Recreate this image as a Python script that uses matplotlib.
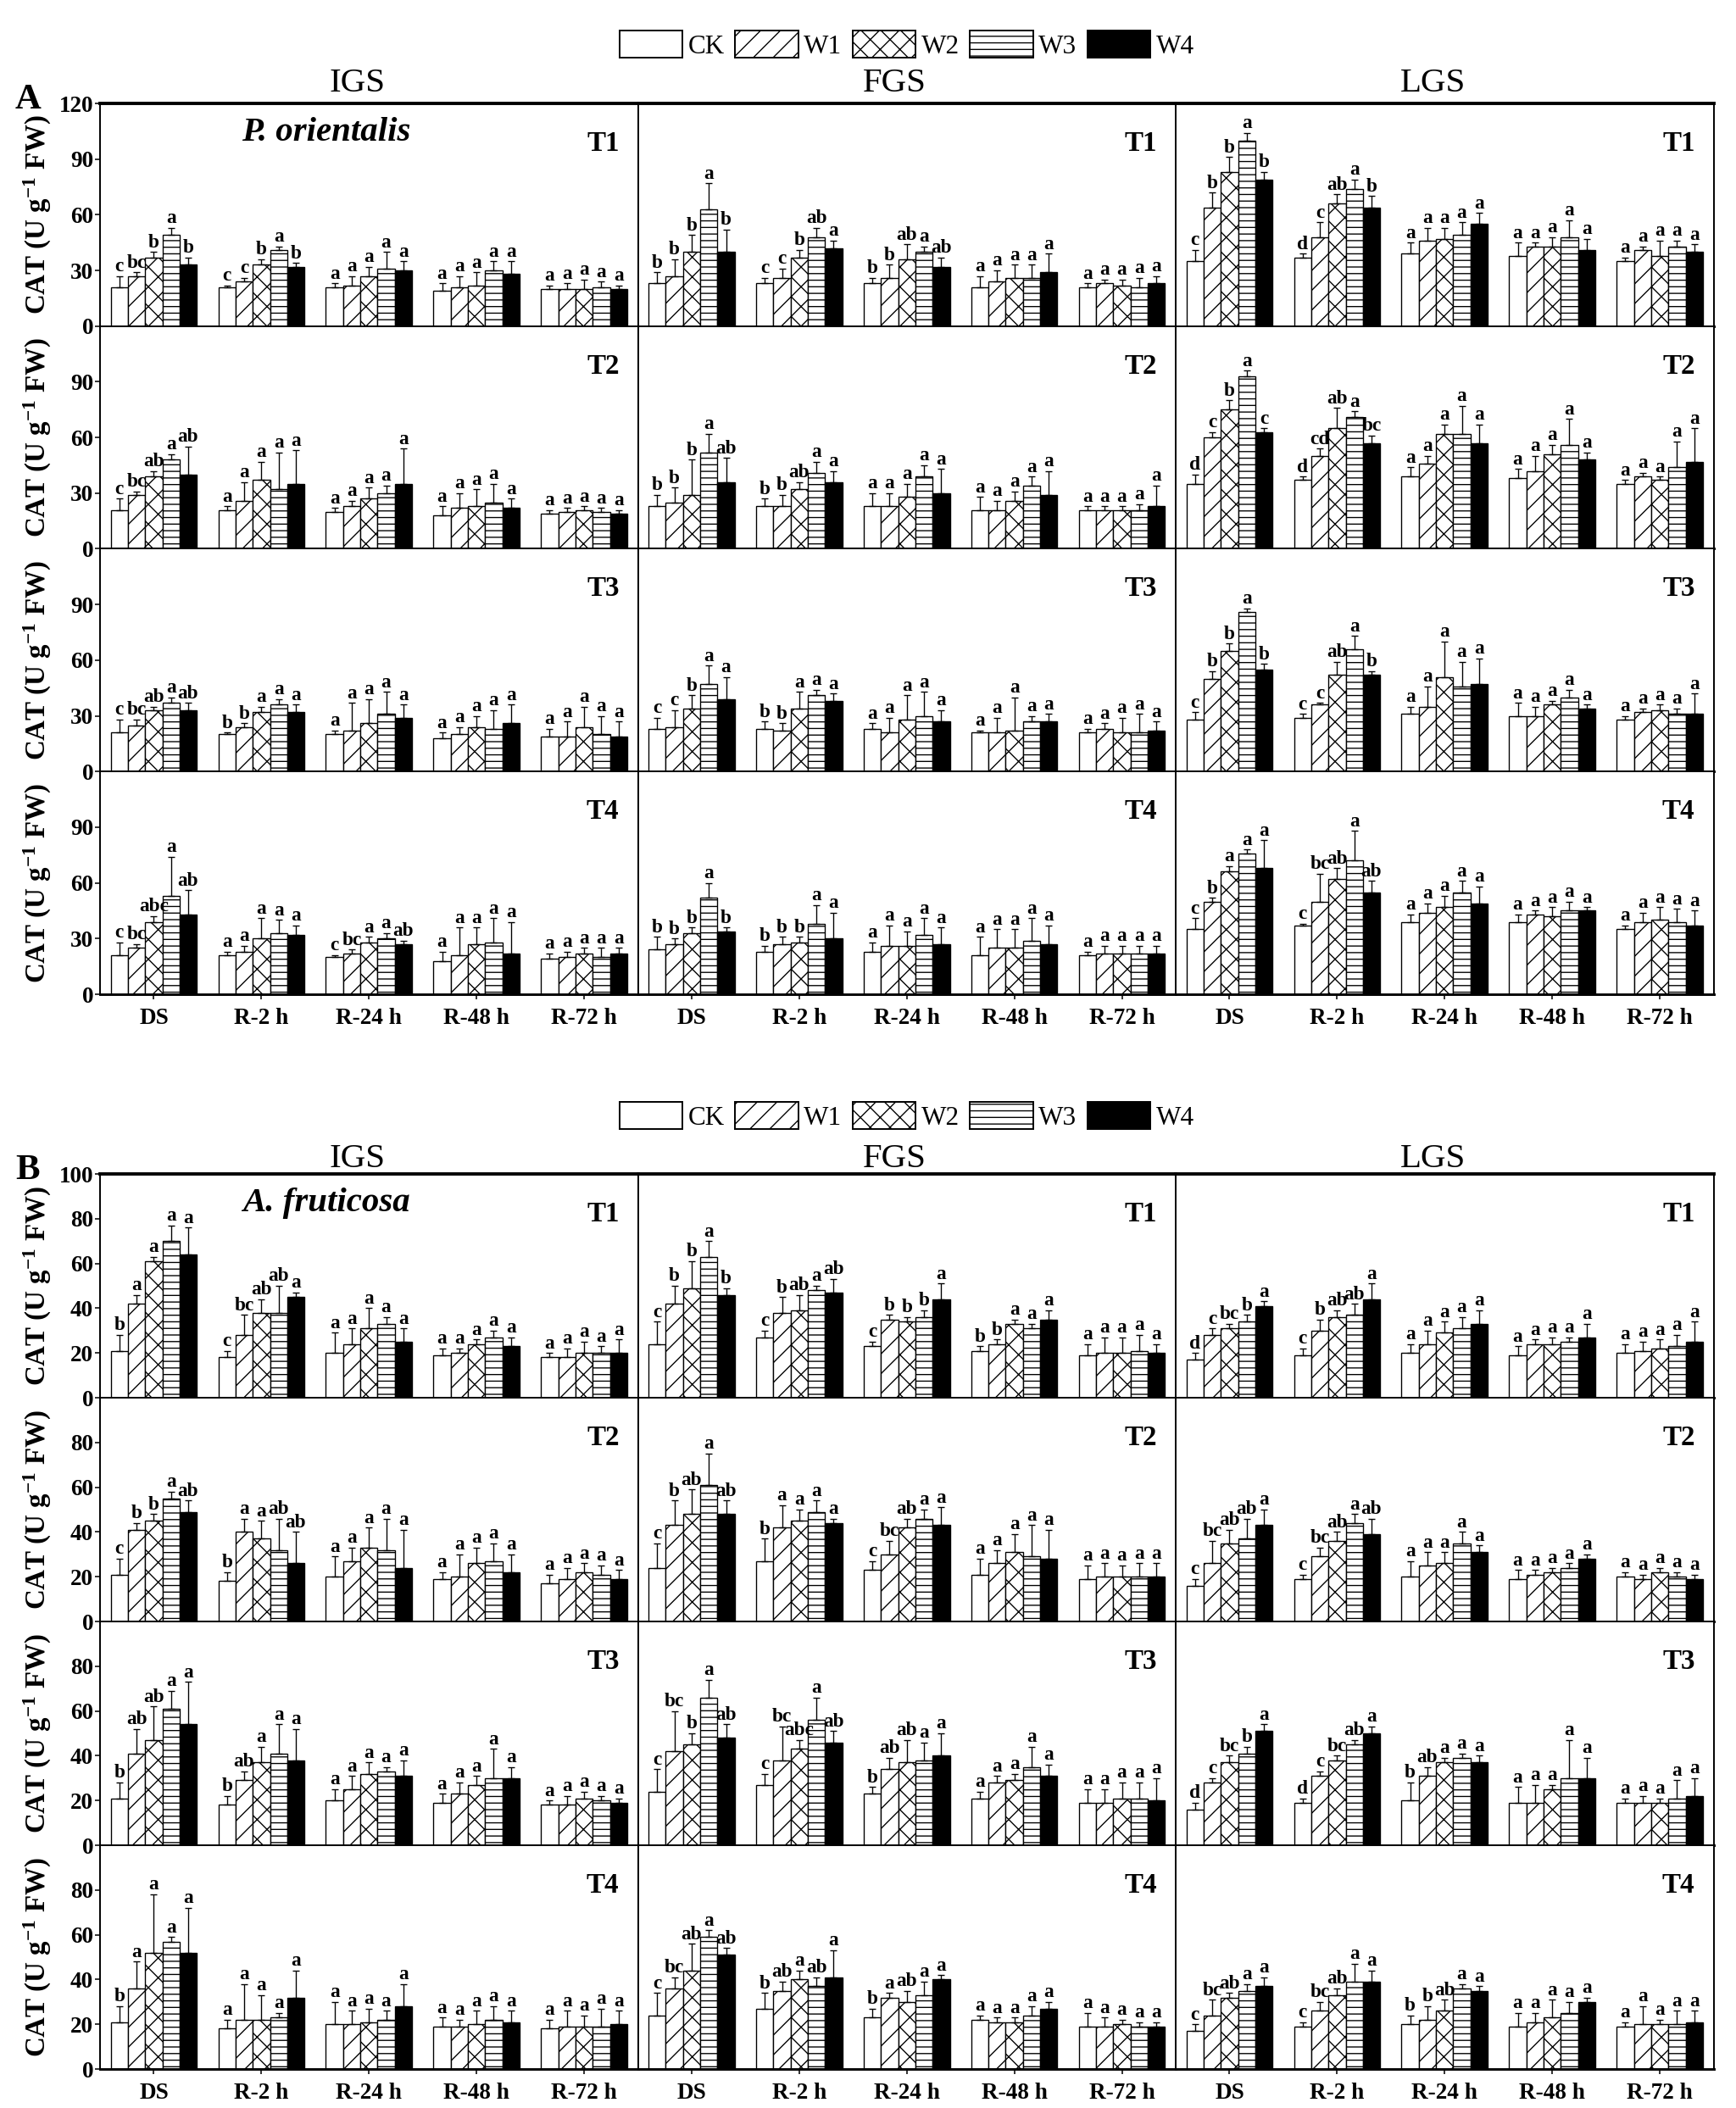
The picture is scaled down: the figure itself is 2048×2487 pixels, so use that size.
import numpy as np
import matplotlib
matplotlib.use("Agg")
import matplotlib.pyplot as plt
from matplotlib.patches import Patch

# ---------------------------------------------------------------------------
# data  (rows = T1..T4, then 5 sampling times, then 5 treatments CK..W4)
groups = ["DS", "R-2 h", "R-24 h", "R-48 h", "R-72 h"]
treatments = ["CK", "W1", "W2", "W3", "W4"]
stages = ["IGS", "FGS", "LGS"]
periods = ["T1", "T2", "T3", "T4"]

# Panel A  - P. orientalis
A_IGS_mean = [
    [[21, 27, 37, 49, 33], [21, 24, 33, 41, 32], [21, 22, 27, 31, 30], [19, 21, 22, 30, 28], [20, 20, 20, 21, 20]],
    [[21, 29, 39, 48, 40], [21, 26, 37, 32, 35], [20, 23, 27, 30, 35], [18, 22, 23, 25, 22], [19, 20, 21, 20, 19]],
    [[21, 25, 33, 37, 33], [20, 24, 32, 36, 32], [20, 22, 26, 31, 29], [18, 20, 24, 23, 26], [19, 19, 24, 20, 19]],
    [[21, 25, 39, 53, 43], [21, 23, 30, 33, 32], [20, 22, 28, 30, 27], [18, 21, 27, 28, 22], [19, 20, 22, 20, 22]],
]
A_IGS_err = [
    [[6, 2, 3, 4, 4], [1, 2, 3, 2, 2], [2, 5, 5, 9, 5], [4, 6, 7, 5, 7], [2, 3, 5, 3, 2]],
    [[6, 2, 3, 3, 15], [2, 10, 10, 20, 18], [2, 3, 6, 4, 19], [5, 8, 9, 10, 5], [2, 2, 2, 2, 2]],
    [[7, 3, 2, 3, 4], [1, 2, 3, 3, 4], [2, 15, 13, 12, 7], [3, 4, 6, 10, 10], [4, 8, 11, 10, 8]],
    [[7, 2, 3, 21, 13], [2, 3, 11, 7, 5], [1, 2, 3, 3, 2], [5, 15, 9, 13, 17], [3, 3, 3, 5, 3]],
]
A_IGS_sig = [
    ["c bc b a b", "c c b a b", "a a a a a", "a a a a a", "a a a a a"],
    ["c bc ab a ab", "a a a a a", "a a a a a", "a a a a a", "a a a a a"],
    ["c bc ab a ab", "b b a a a", "a a a a a", "a a a a a", "a a a a a"],
    ["c bc abc a ab", "a a a a a", "c bc a a ab", "a a a a a", "a a a a a"],
]

A_FGS_mean = [
    [[23, 27, 40, 63, 40], [23, 26, 37, 48, 42], [23, 26, 36, 40, 32], [21, 24, 26, 26, 29], [21, 23, 22, 21, 23]],
    [[23, 25, 29, 52, 36], [23, 23, 32, 41, 36], [23, 23, 28, 39, 30], [21, 21, 26, 34, 29], [21, 21, 21, 21, 23]],
    [[23, 24, 34, 47, 39], [23, 22, 34, 41, 38], [23, 21, 28, 30, 27], [21, 21, 22, 27, 27], [21, 23, 21, 21, 22]],
    [[24, 27, 33, 52, 34], [23, 27, 28, 38, 30], [23, 26, 26, 32, 27], [21, 25, 25, 29, 27], [21, 22, 22, 22, 22]],
]
A_FGS_err = [
    [[6, 9, 9, 14, 12], [3, 5, 4, 5, 4], [3, 7, 8, 3, 5], [6, 6, 7, 7, 10], [2, 2, 3, 5, 4]],
    [[6, 8, 19, 10, 13], [4, 6, 4, 6, 6], [7, 7, 7, 6, 13], [7, 5, 5, 5, 13], [2, 2, 2, 3, 11]],
    [[6, 9, 7, 10, 12], [4, 4, 9, 3, 4], [3, 8, 13, 13, 6], [1, 8, 18, 3, 4], [2, 3, 8, 10, 5]],
    [[7, 3, 3, 8, 2], [3, 4, 3, 10, 14], [5, 11, 8, 9, 9], [10, 10, 10, 12, 10], [2, 4, 4, 4, 4]],
]
A_FGS_sig = [
    ["b b b a b", "c c b ab a", "b b ab a ab", "a a a a a", "a a a a a"],
    ["b b b a ab", "b b ab a a", "a a a a a", "a a a a a", "a a a a a"],
    ["c c b a a", "b b a a a", "a a a a a", "a a a a a", "a a a a a"],
    ["b b b a b", "b b b a a", "a a a a a", "a a a a a", "a a a a a"],
]

A_LGS_mean = [
    [[35, 64, 83, 100, 79], [37, 48, 66, 74, 64], [39, 46, 47, 49, 55], [38, 43, 43, 48, 41], [35, 41, 38, 43, 40]],
    [[35, 60, 75, 93, 63], [37, 50, 65, 71, 57], [39, 46, 62, 62, 57], [38, 42, 51, 56, 48], [35, 39, 37, 44, 47]],
    [[28, 50, 65, 86, 55], [29, 36, 52, 66, 52], [31, 35, 51, 46, 47], [30, 30, 36, 40, 34], [28, 32, 33, 31, 31]],
    [[35, 50, 66, 76, 68], [37, 50, 62, 72, 55], [39, 44, 47, 55, 49], [39, 43, 42, 45, 45], [35, 39, 40, 39, 37]],
]
A_LGS_err = [
    [[6, 8, 8, 4, 4], [2, 8, 5, 5, 6], [6, 7, 6, 7, 6], [7, 2, 5, 9, 6], [2, 2, 8, 3, 4]],
    [[5, 3, 5, 3, 2], [2, 4, 11, 3, 4], [5, 4, 5, 15, 10], [5, 8, 5, 14, 4], [2, 2, 2, 14, 18]],
    [[4, 4, 4, 2, 3], [2, 1, 7, 7, 2], [4, 11, 19, 13, 14], [7, 5, 2, 4, 2], [2, 2, 3, 3, 11]],
    [[6, 2, 3, 2, 15], [1, 15, 6, 16, 6], [4, 5, 6, 6, 9], [4, 2, 5, 5, 2], [2, 5, 7, 7, 8]],
]
A_LGS_sig = [
    ["c b b a b", "d c ab a b", "a a a a a", "a a a a a", "a a a a a"],
    ["d c b a c", "d cd ab a bc", "a a a a a", "a a a a a", "a a a a a"],
    ["c b b a b", "c c ab a b", "a a a a a", "a a a a a", "a a a a a"],
    ["c b a a a", "c bc ab a ab", "a a a a a", "a a a a a", "a a a a a"],
]

# Panel B  - A. fruticosa
B_IGS_mean = [
    [[21, 42, 61, 70, 64], [18, 28, 38, 38, 45], [20, 24, 31, 33, 25], [19, 20, 24, 27, 23], [18, 18, 20, 20, 20]],
    [[21, 41, 45, 55, 49], [18, 40, 37, 32, 26], [20, 27, 33, 32, 24], [19, 20, 26, 27, 22], [17, 19, 22, 21, 19]],
    [[21, 41, 47, 61, 54], [18, 29, 37, 41, 38], [20, 25, 32, 33, 31], [19, 23, 27, 30, 30], [18, 18, 21, 20, 19]],
    [[21, 36, 52, 57, 52], [18, 22, 22, 23, 32], [20, 20, 21, 22, 28], [19, 19, 20, 22, 21], [18, 19, 19, 19, 20]],
]
B_IGS_err = [
    [[7, 4, 2, 7, 12], [3, 9, 6, 12, 2], [9, 7, 9, 3, 6], [3, 2, 2, 3, 4], [2, 4, 5, 3, 6]],
    [[7, 3, 3, 3, 5], [4, 6, 8, 14, 14], [9, 6, 9, 14, 17], [3, 10, 7, 8, 8], [4, 5, 4, 4, 4]],
    [[7, 11, 15, 8, 19], [4, 4, 7, 13, 14], [5, 6, 5, 2, 7], [4, 5, 4, 13, 5], [2, 4, 3, 2, 2]],
    [[7, 12, 26, 2, 20], [4, 16, 11, 2, 12], [10, 6, 6, 4, 10], [4, 3, 6, 6, 5], [4, 7, 5, 8, 6]],
]
B_IGS_sig = [
    ["b a a a a", "c bc ab ab a", "a a a a a", "a a a a a", "a a a a a"],
    ["c b b a ab", "b a a ab ab", "a a a a a", "a a a a a", "a a a a a"],
    ["b ab ab a a", "b ab a a a", "a a a a a", "a a a a a", "a a a a a"],
    ["b a a a a", "a a a a a", "a a a a a", "a a a a a", "a a a a a"],
]

B_FGS_mean = [
    [[24, 42, 49, 63, 46], [27, 38, 39, 48, 47], [23, 35, 34, 36, 44], [21, 24, 33, 31, 35], [19, 20, 20, 21, 20]],
    [[24, 43, 48, 61, 48], [27, 42, 45, 49, 44], [23, 30, 42, 46, 43], [21, 26, 31, 29, 28], [19, 20, 20, 20, 20]],
    [[24, 42, 45, 66, 48], [27, 38, 43, 56, 46], [23, 34, 37, 38, 40], [21, 28, 29, 35, 31], [19, 19, 21, 21, 20]],
    [[24, 36, 44, 59, 51], [27, 35, 40, 37, 41], [23, 32, 30, 33, 40], [22, 21, 21, 24, 27], [19, 19, 20, 19, 19]],
]
B_FGS_err = [
    [[10, 8, 12, 7, 3], [3, 7, 7, 2, 6], [2, 2, 2, 3, 7], [2, 2, 2, 2, 4], [5, 7, 7, 7, 4]],
    [[11, 11, 11, 14, 6], [10, 10, 5, 5, 2], [4, 6, 4, 4, 8], [7, 6, 8, 14, 13], [6, 6, 5, 6, 6]],
    [[10, 18, 5, 8, 6], [5, 15, 4, 10, 5], [3, 5, 10, 8, 10], [3, 3, 3, 9, 5], [6, 6, 7, 7, 10]],
    [[10, 5, 12, 3, 3], [7, 4, 4, 4, 12], [4, 2, 5, 6, 2], [2, 2, 2, 4, 3], [6, 4, 2, 2, 2]],
]
B_FGS_sig = [
    ["c b b a b", "c b ab a ab", "c b b b a", "b b a a a", "a a a a a"],
    ["c b ab a ab", "b a a a a", "c bc ab a a", "a a a a a", "a a a a a"],
    ["c bc b a ab", "c bc abc a ab", "b ab ab a a", "a a a a a", "a a a a a"],
    ["c bc ab a ab", "b ab a ab a", "b a ab a a", "a a a a a", "a a a a a"],
]

B_LGS_mean = [
    [[17, 28, 31, 34, 41], [19, 30, 36, 37, 44], [20, 24, 29, 31, 33], [19, 24, 24, 25, 27], [20, 21, 22, 23, 25]],
    [[16, 26, 35, 37, 43], [19, 29, 36, 44, 39], [20, 25, 26, 35, 31], [19, 21, 22, 24, 28], [20, 19, 22, 20, 19]],
    [[16, 28, 37, 41, 51], [19, 31, 38, 45, 50], [20, 31, 37, 39, 37], [19, 19, 25, 30, 30], [19, 19, 19, 21, 22]],
    [[17, 24, 32, 35, 37], [19, 26, 33, 39, 39], [20, 22, 26, 36, 35], [19, 21, 23, 25, 30], [19, 20, 20, 20, 21]],
]
B_LGS_err = [
    [[3, 3, 2, 3, 2], [3, 5, 3, 5, 7], [4, 6, 5, 5, 6], [4, 2, 3, 2, 6], [4, 4, 4, 5, 9]],
    [[3, 10, 6, 9, 7], [2, 4, 4, 4, 7], [7, 6, 5, 5, 3], [4, 2, 2, 2, 2], [2, 2, 2, 2, 2]],
    [[3, 2, 3, 3, 3], [2, 2, 2, 2, 3], [8, 4, 2, 2, 3], [7, 8, 2, 17, 9], [2, 3, 2, 8, 8]],
    [[3, 7, 2, 3, 4], [2, 4, 3, 8, 5], [4, 6, 5, 2, 2], [6, 4, 8, 5, 2], [2, 8, 2, 6, 5]],
]
B_LGS_sig = [
    ["d c bc b a", "c b ab ab a", "a a a a a", "a a a a a", "a a a a a"],
    ["c bc ab ab a", "c bc ab a ab", "a a a a a", "a a a a a", "a a a a a"],
    ["d c bc b a", "d c bc ab a", "b ab a a a", "a a a a a", "a a a a a"],
    ["c bc ab a a", "c bc ab a a", "b b ab a a", "a a a a a", "a a a a a"],
]

# ---------------------------------------------------------------------------
# styles
fills = ["white", "white", "white", "white", "black"]
hatches = [None, "//", "xx", "---", None]

plt.rcParams['font.family'] = 'Liberation Serif'
plt.rcParams['font.weight'] = 'bold'
plt.rcParams['mathtext.default'] = 'regular'
plt.rcParams['hatch.linewidth'] = 0.7
plt.rcParams['hatch.color'] = 'black'

W, H = 2048, 2487
DPI = 140
fig = plt.figure(figsize=(W / DPI, H / DPI), dpi=DPI)

ax_left = 118
col_w = 634.5
bar_w = 0.16


def px_axes(x, y_top, w, h):
    return fig.add_axes([x / W, 1 - (y_top + h) / H, w / W, h / H])


def draw_panel(top, row_h, ymax, ystep, means, errs, sigs, species, letter, legend_y, title_y):
    xg = np.arange(len(groups))
    for r in range(4):
        for c in range(3):
            ax = px_axes(ax_left + c * col_w, top + r * row_h, col_w, row_h)
            m = np.array(means[c][r])
            e = np.array(errs[c][r])
            s = sigs[c][r]
            for k in range(5):
                xs = xg + (k - 2) * bar_w
                ax.bar(xs, m[:, k], bar_w, facecolor=fills[k], edgecolor='black',
                       hatch=hatches[k], linewidth=0.7, zorder=2)
                ax.errorbar(xs, m[:, k], yerr=[np.zeros(5), e[:, k]], fmt='none',
                            ecolor='black', elinewidth=0.7, capsize=2.0, capthick=0.7, zorder=3)
                for j in range(5):
                    ax.annotate(s[j].split()[k], (xs[j], m[j, k] + e[j, k]), xytext=(0, 0.3),
                                textcoords='offset points', ha='center', va='bottom',
                                fontsize=12, fontweight='bold')
            ax.set_xlim(-0.5, 4.5)
            ax.set_ylim(0, ymax)
            ax.set_xticks(xg)
            ax.tick_params(axis='x', direction='out', length=3, width=0.8)
            if r == 3:
                ax.set_xticklabels(groups, fontsize=14, fontweight='bold')
                ax.tick_params(axis='x', pad=5)
            else:
                ax.set_xticklabels([])
            if c == 0:
                ticks = list(np.arange(0, ymax, ystep))
                if r == 0:
                    ticks.append(ymax)
                ax.set_yticks(ticks)
                ax.set_yticklabels([str(int(t)) for t in ticks], fontsize=14, fontweight='bold')
                ax.tick_params(axis='y', direction='out', length=3, width=0.8, pad=1)
            else:
                ax.set_yticks([])
            for sp in ax.spines.values():
                sp.set_linewidth(1.0)
            ax.spines['bottom'].set_linewidth(1.5)
            if r == 0:
                ax.spines['top'].set_linewidth(2.0)
            ax.text(0.935, 0.82, periods[r], transform=ax.transAxes, ha='center', va='center',
                    fontsize=17, fontweight='bold')
            if r == 0 and c == 0:
                ax.text(0.42, 0.87, species, transform=ax.transAxes, ha='center', va='center',
                        fontsize=21, fontweight='bold', fontstyle='italic')
        fig.text(44 / W, 1 - (top + r * row_h + row_h / 2) / H, "CAT (U g$^{-1}$ FW)",
                 rotation=90, ha='center', va='center', fontsize=17, fontweight='bold')

    for c in range(3):
        fig.text((ax_left + c * col_w + col_w / 2 - 14) / W, 1 - title_y / H, stages[c],
                 ha='center', va='center', fontsize=21, fontweight='normal')
    fig.text(18 / W, 1 - (top - 4) / H, letter, ha='left', va='center', fontsize=22, fontweight='bold')

    handles = [Patch(facecolor=fills[k], edgecolor='black', hatch=hatches[k], linewidth=1.0)
               for k in range(5)]
    fig.legend(handles, treatments, loc='center', ncol=5, frameon=False,
               bbox_to_anchor=((ax_left + 1.5 * col_w) / W, 1 - legend_y / H),
               prop={'size': 16, 'weight': 'normal'}, handlelength=2.4, handleheight=1.2,
               handletextpad=0.2, columnspacing=0.4, borderaxespad=0)


draw_panel(122, 262.75, 120, 30,
           [A_IGS_mean, A_FGS_mean, A_LGS_mean],
           [A_IGS_err, A_FGS_err, A_LGS_err],
           [A_IGS_sig, A_FGS_sig, A_LGS_sig],
           "P. orientalis", "A", 53, 98)
draw_panel(1385, 264, 100, 20,
           [B_IGS_mean, B_FGS_mean, B_LGS_mean],
           [B_IGS_err, B_FGS_err, B_LGS_err],
           [B_IGS_sig, B_FGS_sig, B_LGS_sig],
           "A. fruticosa", "B", 1317, 1367)

fig.savefig("out.png", dpi=DPI)
